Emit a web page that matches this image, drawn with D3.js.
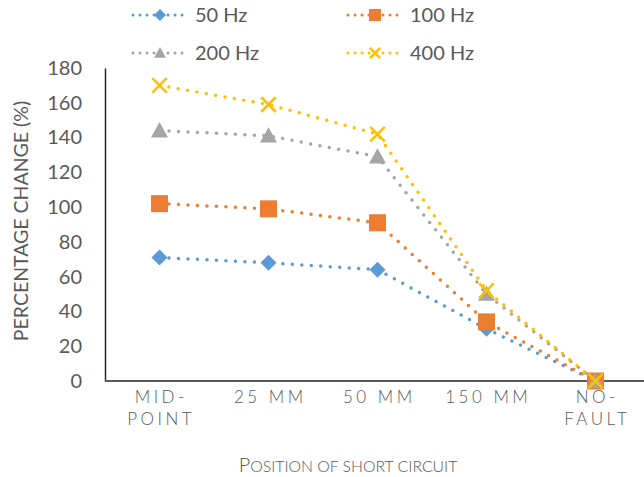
<!DOCTYPE html>
<html>
<head>
<meta charset="utf-8">
<title>Percentage change</title>
<script src="https://d3js.org/d3.v7.min.js"></script>
<style>
  body { margin: 0; background: #fff; }
  text { font-family: Lato, "Open Sans", sans-serif; fill: #595959; }
</style>
</head>
<body>
<div id="chart"></div>
<script>
// data
const categories = [["MID-", "POINT"], ["25 MM"], ["50 MM"], ["150 MM"], ["NO-", "FAULT"]];
const seriesNames = ["50 Hz", "100 Hz", "200 Hz", "400 Hz"];
const hz50  = [71, 68, 64, 30, 0];
const hz100 = [102, 99, 91, 34, 0];
const hz200 = [144, 141, 129, 50, 0];
const hz400 = [170, 159, 142, 52, 0];
const yTicks = [0, 20, 40, 60, 80, 100, 120, 140, 160, 180];

const colors = ["#5B9BD5", "#ED7D31", "#A5A5A5", "#FFC000"];
const symbols = ["diamond", "square", "triangle", "cross"];
const allSeries = [hz50, hz100, hz200, hz400];

let W = 644, H = 477;
let svg = d3.select("#chart").append("svg")
    .attr("width", W).attr("height", H);

let keys = categories.map(function(c) { return c.join(" "); });
let x = d3.scaleBand().domain(keys).range([105, 650]).padding(0);
let y = d3.scaleLinear().domain([0, 180]).range([381, 68]);
let cx = function(i) { return x(keys[i]) + x.bandwidth() / 2; };

// axes
let yAxis = d3.axisLeft(y).tickValues(yTicks).tickSize(0).tickPadding(23);
let gy = svg.append("g").attr("transform", "translate(105,0)").call(yAxis);
gy.select(".domain").attr("stroke", "#262626").attr("stroke-width", 1.5);
gy.selectAll("text").attr("font-size", "20px").attr("fill", "#595959")
    .attr("font-family", "Lato, sans-serif");

svg.append("line").attr("x1", 105).attr("x2", W).attr("y1", 381).attr("y2", 381)
    .attr("stroke", "#595959").attr("stroke-width", 2);

// category labels
categories.forEach(function(c, i) {
    let t = svg.append("text").attr("x", cx(i)).attr("y", 403)
        .attr("text-anchor", "middle").attr("font-size", "17px")
        .attr("font-weight", 300)
        .attr("letter-spacing", "3.5px");
    c.forEach(function(line, j) {
        t.append("tspan").attr("x", cx(i) + 1.75).attr("dy", j === 0 ? 0 : 22).text(line);
    });
});

// axis titles
let xt = svg.append("text").attr("x", 348).attr("y", 472).attr("text-anchor", "middle")
    .attr("font-weight", 300);
xt.append("tspan").attr("font-size", "20px").text("P");
xt.append("tspan").attr("font-size", "15.8px").text("OSITION OF SHORT CIRCUIT");

svg.append("text")
    .attr("transform", "translate(28,221) rotate(-90)")
    .attr("text-anchor", "middle").attr("font-size", "19.5px")
    .text("PERCENTAGE CHANGE (%)");

function marker(g, kind, px, py, s, col) {
    if (kind === "diamond") {
        g.append("path").attr("d", "M" + px + "," + (py - s) + "L" + (px + s) + "," + py +
            "L" + px + "," + (py + s) + "L" + (px - s) + "," + py + "Z").attr("fill", col);
    } else if (kind === "square") {
        g.append("rect").attr("x", px - s).attr("y", py - s).attr("width", 2 * s).attr("height", 2 * s)
            .attr("fill", col);
    } else if (kind === "triangle") {
        g.append("path").attr("d", "M" + px + "," + (py - s) + "L" + (px + s) + "," + (py + s * 0.8) +
            "L" + (px - s) + "," + (py + s * 0.8) + "Z").attr("fill", col);
    } else {
        let k = s * 0.85;
        g.append("path").attr("d", "M" + (px - k) + "," + (py - k) + "L" + (px + k) + "," + (py + k) +
            "M" + (px + k) + "," + (py - k) + "L" + (px - k) + "," + (py + k))
            .attr("stroke", col).attr("stroke-width", 2.6).attr("fill", "none");
    }
}

let sizes = [8, 8.5, 8.5, 8.5];
let line = d3.line().x(function(d, i) { return cx(i); }).y(function(d) { return y(d); });

allSeries.forEach(function(vals, s) {
    let g = svg.append("g");
    g.append("path").datum(vals).attr("d", line)
        .attr("fill", "none").attr("stroke", colors[s]).attr("stroke-width", 3.5)
        .attr("stroke-linecap", "round").attr("stroke-dasharray", "0 9.5");
    vals.forEach(function(v, i) {
        marker(g, symbols[s], cx(i), y(v), sizes[s], colors[s]);
    });
});

// legend
let legendPos = [[133, 15], [348, 15], [133, 53], [348, 53]];
seriesNames.forEach(function(name, s) {
    let lx = legendPos[s][0], ly = legendPos[s][1];
    let g = svg.append("g");
    g.append("line").attr("x1", lx).attr("x2", lx + 50).attr("y1", ly).attr("y2", ly)
        .attr("stroke", colors[s]).attr("stroke-width", 3)
        .attr("stroke-linecap", "round").attr("stroke-dasharray", "0 7");
    marker(g, symbols[s], lx + 27, ly, 6, colors[s]);
    g.append("text").attr("x", lx + 62).attr("y", ly + 7).attr("font-size", "20px").text(name);
});
</script>
</body>
</html>
